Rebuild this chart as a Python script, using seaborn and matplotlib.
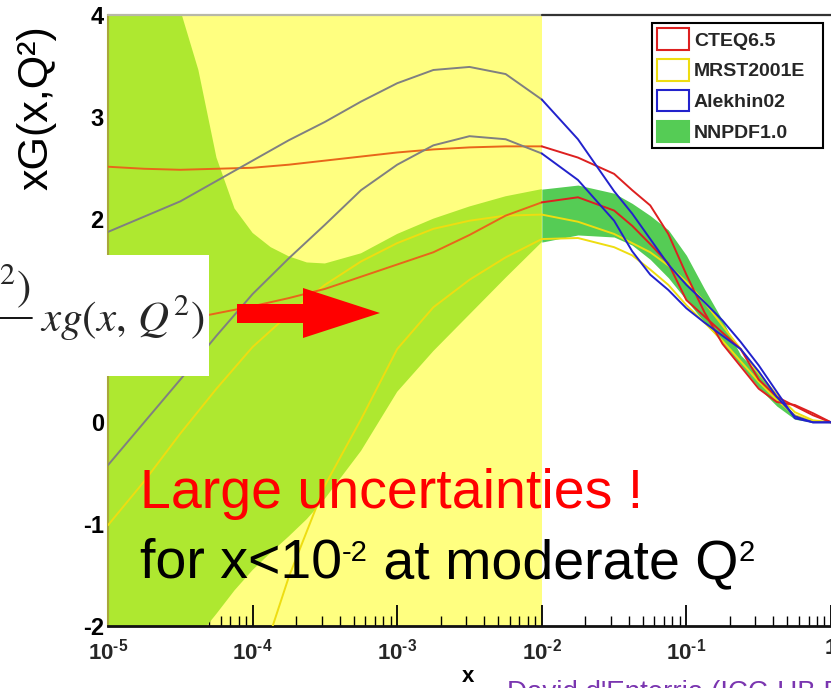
import numpy as np
import matplotlib
matplotlib.use("Agg")
import matplotlib.pyplot as plt
import seaborn as sns
from matplotlib.patches import Rectangle, Polygon, Patch
from matplotlib.lines import Line2D
from matplotlib.font_manager import FontProperties
from matplotlib.ticker import LogLocator, NullFormatter

# ---------------- data ----------------
# curves: common grid of log10(x)
LOG_X = [-5, -4.75, -4.5, -4.25, -4, -3.75, -3.5, -3.25, -3, -2.75, -2.5, -2.25, -2,
         -1.75, -1.5, -1.375, -1.25, -1.125, -1, -0.875, -0.75, -0.625, -0.5,
         -0.375, -0.25, -0.125, 0]

cteq_hi = [2.51, 2.49, 2.48, 2.49, 2.5, 2.53, 2.57, 2.61, 2.65, 2.68, 2.7, 2.71, 2.71,
           2.6, 2.44, 2.28, 2.13, 1.85, 1.45, 1.08, 0.77, 0.55, 0.33, 0.2, 0.17, 0.09, 0.0]
cteq_lo = [0.88, 0.94, 1.0, 1.07, 1.14, 1.22, 1.31, 1.43, 1.55, 1.67, 1.84, 2.03, 2.16,
           2.21, 2.08, 1.93, 1.75, 1.56, 1.2, 1.04, 0.88, 0.72, 0.42, 0.25, 0.16, 0.07, 0.0]

mrst_hi = [-1.01, -0.58, -0.11, 0.33, 0.74, 1.06, 1.35, 1.58, 1.76, 1.9, 1.98, 2.03, 2.04,
           1.97, 1.85, 1.76, 1.67, 1.54, 1.38, 1.18, 0.95, 0.72, 0.48, 0.27, 0.1, 0.02, 0.0]
mrst_lo = [-9.0, -7.0, -5.5, -4.0, -2.6, -1.52, -0.62, 0.03, 0.72, 1.13, 1.4, 1.62, 1.8,
           1.81, 1.72, 1.64, 1.5, 1.35, 1.15, 0.98, 0.8, 0.6, 0.4, 0.22, 0.07, 0.01, 0.0]

alek_hi = [1.87, 2.02, 2.17, 2.37, 2.57, 2.77, 2.95, 3.15, 3.33, 3.46, 3.49, 3.42, 3.17,
           2.78, 2.27, 2.05, 1.8, 1.55, 1.35, 1.18, 1.0, 0.79, 0.56, 0.3, 0.04, 0.0, 0.0]
alek_lo = [-0.42, 0.0, 0.42, 0.85, 1.26, 1.61, 1.94, 2.28, 2.53, 2.72, 2.81, 2.78, 2.64,
           2.38, 1.98, 1.68, 1.45, 1.3, 1.12, 0.98, 0.85, 0.72, 0.5, 0.25, 0.06, 0.0, 0.0]

# NNPDF1.0 band: its own grid of log10(x)
BAND_LOG_X = [-5, -4.875, -4.75, -4.625, -4.5, -4.375, -4.25, -4.125, -4, -3.875, -3.75,
              -3.625, -3.5, -3.25, -3, -2.75, -2.5, -2.25, -2, -1.75, -1.5, -1.375,
              -1.25, -1.125, -1, -0.875, -0.75, -0.625, -0.5, -0.375, -0.25, -0.125, 0]
nnpdf_hi = [7.0, 6.2, 5.5, 4.8, 4.05, 3.46, 2.6, 2.1, 1.86, 1.72, 1.63,
            1.57, 1.56, 1.66, 1.85, 2.0, 2.12, 2.22, 2.29, 2.33, 2.25, 2.15,
            2.03, 1.89, 1.64, 1.31, 1.0, 0.66, 0.48, 0.26, 0.06, 0.01, 0.0]
nnpdf_lo = [-3.2, -2.95, -2.75, -2.5, -2.3, -2.1, -1.88, -1.65, -1.45, -1.28, -1.12,
            -0.95, -0.75, -0.28, 0.3, 0.7, 1.06, 1.42, 1.77, 1.84, 1.82, 1.74,
            1.6, 1.42, 1.2, 0.98, 0.78, 0.56, 0.34, 0.16, 0.03, 0.0, 0.0]

legend_labels = ["CTEQ6.5", "MRST2001E", "Alekhin02", "NNPDF1.0"]
y_ticks = [-2, -1, 0, 2, 3, 4]          # "1" is hidden by the formula box on the slide
x_tick_exps = [-5, -4, -3, -2, -1, 0]
HIGHLIGHT_EXP = -2  # yellow highlighted region x < 10^-2

# ---------------- style ----------------
sns.set_theme(style="white")
SANS = "Liberation Sans"
plt.rcParams["font.family"] = [SANS, "DejaVu Sans"]
plt.rcParams["axes.unicode_minus"] = False
plt.rcParams["mathtext.fontset"] = "custom"
plt.rcParams["mathtext.rm"] = f"{SANS}:bold"
plt.rcParams["mathtext.it"] = f"{SANS}:bold"
plt.rcParams["mathtext.bf"] = f"{SANS}:bold"
plt.rcParams["mathtext.default"] = "rm"

RED, ORANGE = "#DD2020", "#E8661A"
BLUE, GRAY = "#2222CC", "#808080"
YEL = "#EEDD11"
LIME, GREEN = "#AEE830", "#55CC55"
HILITE = "#FFFF80"

W, H = 831, 688
fig = plt.figure(figsize=(W / 100, H / 100), dpi=100)
fig.patch.set_facecolor("white")


def fx(px):
    return px / W


def fy(py):
    return 1 - py / H


ax = fig.add_axes([fx(108), fy(626), fx(831) - fx(108), fy(15) - fy(626)])
ax.set_facecolor("white")
ax.set_xscale("log")

ax.axvspan(10.0 ** -5, 10.0 ** HIGHLIGHT_EXP, color=HILITE, lw=0, zorder=0)

# band
bx = 10.0 ** np.array(BAND_LOG_X)
kb = BAND_LOG_X.index(HIGHLIGHT_EXP)
lo, hi = np.array(nnpdf_lo), np.array(nnpdf_hi)
ax.fill_between(bx[:kb + 1], lo[:kb + 1], hi[:kb + 1], color=LIME, lw=0, zorder=1)
ax.fill_between(bx[kb:], lo[kb:], hi[kb:], color=GREEN, lw=0, zorder=1)

# curves
x = 10.0 ** np.array(LOG_X)
k = LOG_X.index(HIGHLIGHT_EXP)
curves = [
    (mrst_hi, YEL, YEL), (mrst_lo, YEL, YEL),
    (cteq_hi, RED, ORANGE), (cteq_lo, RED, ORANGE),
    (alek_hi, BLUE, GRAY), (alek_lo, BLUE, GRAY),
]
for ys, c_out, c_in in curves:
    ys = np.array(ys)
    sns.lineplot(x=x[:k + 1], y=ys[:k + 1], color=c_in, lw=1.4, ax=ax, estimator=None,
                 sort=False, zorder=3)
    sns.lineplot(x=x[k:], y=ys[k:], color=c_out, lw=1.4, ax=ax, estimator=None,
                 sort=False, zorder=3)

ax.set_xlim(1e-5, 1)
ax.set_ylim(-2, 4)
ax.set_xlabel("")
ax.set_ylabel("")

# ticks
ax.set_xticks(10.0 ** np.array(x_tick_exps))
ax.set_xticklabels([rf"$10^{{\text{{-{-e}}}}}$" if e != 0 else r"$1$" for e in x_tick_exps])
ax.xaxis.set_minor_locator(LogLocator(base=10, subs=np.arange(2, 10), numticks=20))
ax.xaxis.set_minor_formatter(NullFormatter())
ax.tick_params(axis="x", which="major", direction="in", length=15, width=1.3,
               color="black", pad=9, labelsize=16, bottom=True, top=False)
ax.tick_params(axis="x", which="minor", direction="in", length=7, width=1.0,
               color="black", bottom=True, top=False)
ax.set_yticks(y_ticks)
ax.set_yticklabels([str(v) for v in y_ticks])
for t in ax.get_yticklabels():
    t.set_fontproperties(FontProperties(family=SANS, weight="bold", size=17))
ax.tick_params(axis="y", length=0, pad=3, left=True, labelcolor="black")

# spines
ax.spines["right"].set_visible(False)
ax.spines["top"].set_visible(False)
ax.spines["left"].set_color("#A8A83A")
ax.spines["left"].set_linewidth(1.5)
ax.spines["bottom"].set_color("#111111")
ax.spines["bottom"].set_linewidth(2.0)
ax.axhline(4, xmin=0, xmax=0.6, color="#B8B8A8", lw=1.6, clip_on=False, zorder=5)
ax.axhline(4, xmin=0.6, xmax=1.0, color="#333333", lw=1.6, clip_on=False, zorder=5)

# legend
handles = [
    Patch(facecolor="white", edgecolor=RED, lw=1.5),
    Patch(facecolor="white", edgecolor=YEL, lw=1.5),
    Patch(facecolor="white", edgecolor=BLUE, lw=1.5),
    Patch(facecolor=GREEN, edgecolor=GREEN, lw=1.5),
]
leg = fig.legend(handles, legend_labels, loc="upper left",
                 bbox_to_anchor=(fx(652), fy(167), fx(823) - fx(652), fy(23) - fy(167)),
                 bbox_transform=fig.transFigure, mode="expand", borderaxespad=0,
                 frameon=True, fancybox=False, edgecolor="black", framealpha=1,
                 prop=FontProperties(family=SANS, weight="bold", size=14),
                 handlelength=1.6, handleheight=1.3, handletextpad=0.28,
                 labelspacing=0.5, borderpad=0.28)
leg.get_frame().set_linewidth(1.5)

# formula box (slide overlay)
fig.add_artist(Rectangle((0, fy(376)), fx(209), fy(255) - fy(376),
                         transform=fig.transFigure, facecolor="white",
                         edgecolor="none", zorder=4))
fig.text(fx(40), fy(331), r"$\mathit{xg}(\mathit{x},\,\mathit{Q}^{2})$",
         math_fontfamily="stix", fontsize=31, ha="left", va="baseline", zorder=5)
fig.text(fx(31), fy(300), r"$\mathit{Q}^{2})$", math_fontfamily="stix", fontsize=31,
         ha="right", va="baseline", zorder=5)
fig.add_artist(Line2D([0, fx(32)], [fy(318), fy(318)], transform=fig.transFigure,
                      color="black", lw=1.3, zorder=5))

# red arrow
arrow_px = [(237, 304), (303, 304), (303, 288), (380, 313), (303, 338), (303, 323), (237, 323)]
fig.add_artist(Polygon([(fx(a), fy(b)) for a, b in arrow_px], closed=True,
                       transform=fig.transFigure, facecolor="#FF0000",
                       edgecolor="none", zorder=6))

# slide texts
renderer = fig.canvas.get_renderer()


def chain_text(x_px, y_px, parts, color):
    cur = fx(x_px)
    for s, size, rise in parts:
        t = fig.text(cur, fy(y_px - rise), s, fontsize=size, color=color,
                     family=[SANS, "DejaVu Sans"], ha="left", va="baseline", zorder=6)
        bb = t.get_window_extent(renderer)
        cur = fig.transFigure.inverted().transform((bb.x1, bb.y0))[0]


chain_text(140, 508, [("Large uncertainties !", 40, 0)], "#FF0000")
chain_text(140, 578, [("for x<10", 40, 0), ("-2", 21, 17),
                      (" at moderate Q", 40, 0), ("2", 21, 17)], "black")

# axis labels
fig.text(fx(37), fy(108), "xG(x,Q²)", rotation=90, fontsize=31,
         family=[SANS, "DejaVu Sans"], ha="center", va="center", color="black")
fig.text(fx(468), fy(682), "x", fontproperties=FontProperties(family=SANS, weight="bold", size=16),
         ha="center", va="baseline", color="black")

# footer (cut by the slide crop)
fig.text(fx(507), fy(700), "David d'Enterria (ICC-UB Barcelona)", color="#7A35B0",
         fontsize=20, family=[SANS, "DejaVu Sans"], ha="left", va="baseline")

fig.savefig("out.png", dpi=100)
